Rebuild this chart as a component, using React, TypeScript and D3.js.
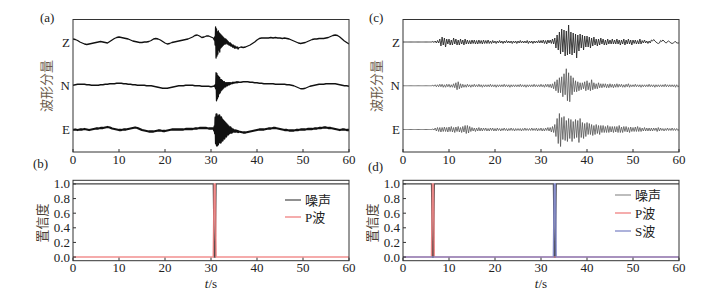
import React from "react";
import * as d3 from "d3";

// ---------- tick labels / categories ----------
const TIME_TICKS = [0, 10, 20, 30, 40, 50, 60];
const CONF_TICKS = [0, 0.2, 0.4, 0.6, 0.8, 1.0];
const COMPONENTS = ["Z", "N", "E"];

// ---------- panel (a): waveform amplitudes (counts) ----------
// pre-event: t = 0 .. 30.5 s every 0.5 s
const A_Z_PRE = [3, 2.5, 1.5, 0, -1, -2, -2.5, -2, -1.5, -1, -0.5, 0, 0.5, 0, -0.5, -1, 0.5, 2, 3.5, 4.5, 5, 4.5, 4, 3.5, 3, 2, 1, 0.5, 0, -0.5, -0.5, 0, 0, 0.5, 1.5, 3, 3.5, 3, 2, 0.5, -1, -2, -1.5, -0.5, 0, 0.5, 1, 1.5, 2, 2.5, 3, 4, 5, 6.5, 7, 6, 4.5, 5, 6, 6, 5, 4];
const A_N_PRE = [0.5, 1, 1.5, 1.5, 1.5, 1.5, 1, 1, 0.5, 0.5, 0.5, 0.5, 1, 1, 1.5, 1.5, 2, 2, 2, 2.5, 2.5, 2.5, 2, 2, 1.5, 1.5, 1, 1, 0.5, 0.5, 0.5, 0.5, 0, 0, 0, -0.5, -1, -1.5, -2, -2.5, -2.5, -2.5, -2, -1.5, -1, -0.5, 0, 0, 0, 0.5, 0.5, 0.5, 0.5, 0, 0, 0, -0.5, -0.5, -0.5, -0.5, -1, -0.5];
const A_E_PRE = [-0.5, 0, -0.5, 0, 0, 0.5, 0, -0.5, 0, 0.5, 1, 1, 1.5, 1.5, 2, 2.5, 2, 1, 0.5, 0, -0.5, -0.5, 0, 0, 0.5, 1, 1.5, 2, 1.5, 0.5, -0.5, -1, -1.5, -2, -2, -2, -1.5, -1, -1, -1.5, -1.5, -1, -0.5, 0, 0, 0, 0, 0, 0, 0.5, 0.5, 0.5, 0.5, 1, 1, 1.5, 1.5, 1.5, 1.5, 1, 1, 1];
// event: t = 30.6 .. 36.0 s every 0.1 s
const A_Z_EVT = [3, 2, 5, -3, 15, -16, 13, -14, 10, -12, 11, -8, 9, -10, 8, -6, 7, -5, 6, -4, 5, -3, 4, -2, 3, -2, 3, -1, 2, -2, 1, -2, 0, -3, -1, -3, -1, -4, -2, -4, -3, -5, -3, -5, -4, -6, -4, -6, -5, -6, -5, -6, -5, -7, -6];
const A_N_EVT = [-0.5, 0, -1, 1, -3, 13, -15, 12, -13, 10, -11, 9, -8, 8, -7, 6, -5, 6, -4, 5, -3, 4, -2, 4, -1, 3, -1, 3, 0, 3, 0, 3, 1, 3, 1, 3, 1.5, 3, 2, 3, 2, 3.5, 2.5, 3.5, 2.5, 3.5, 3, 3.5, 3, 4, 3, 4, 3, 4, 3.5];
const A_E_EVT = [1, -1, 3, -4, 12, -14, 15, -16, 13, -15, 12, -13, 14, -12, 11, -13, 12, -10, 10, -11, 9, -8, 8, -9, 7, -6, 6, -7, 5, -5, 4, -5, 3, -4, 2, -3, 2, -3, 1, -3, 0, -2, 0, -2, -1, -2, -1, -2, -1, -2, -1.5, -2, -1.5, -2.5, -2];
// post-event: t = 36.5 .. 60 s every 0.5 s
const A_Z_POST = [-5, -5.5, -5, -4, -3, -1.5, 0, 2, 3.5, 4, 4, 4, 4, 4.5, 4, 4.5, 4, 4, 3.5, 4, 3.5, 3, 2, 1, 0, -1, -1.5, -1, -0.5, 0.5, 1.5, 2.5, 3, 3, 3.5, 3.5, 3.5, 4, 4.5, 5.5, 6.5, 7, 6.5, 5, 3, 1, -0.5, -2];
const A_N_POST = [3.5, 4, 4, 4, 3.5, 3.5, 3, 3, 2.5, 2.5, 2, 2, 2, 2, 2, 1.5, 1.5, 1.5, 1.5, 1.5, 1, 1, 0.5, 0, -1, -2, -3, -3, -2.5, -1.5, -0.5, 0, 0.5, 1, 1.5, 1.5, 1.5, 2, 2, 2, 2, 2, 1.5, 1, 0.5, 0, 0, -0.5];
const A_E_POST = [-2.5, -3, -3, -2.5, -2, -1.5, -1, -0.5, 0, 0, 0, 0.5, 1, 1, 1.5, 1.5, 1, 0.5, 0, -0.5, -0.5, -1, -1, -1, -0.5, -0.5, 0, 0, 0, 0.5, 0.5, 0.5, 1, 1, 1.5, 1.5, 2, 2, 1.5, 1.5, 1, 0.5, 0, -0.5, 0, 0, -0.5, -0.5];

// ---------- panel (c): waveform amplitudes, t = 0 .. 60 s every 0.25 s ----------
const C_Z = [
  0, 0, 0, 0, 0, 0, 0, 0, 0, 0, 0, 0, 0, 0, 0, 0, 0, 0, 0, 0, 0, 0, 0, 0,
  0, 0, 0.5, -0.5, 1, -1, 1.5, -1, 3, -4, 5, -3, 4, -5, 3, -2,
  3, -3, 2, -3, 4, -2, 3, -3, 2, -3, 3, -2, 2, -3, 3, -2,
  2, -2, 1.5, -2, 2, -1.5, 2, -2, 1.5, -2, 2, -1.5, 1.5, -2, 2, -1.5,
  1.5, -1.5, 2, -1.5, 1, -1.5, 1.5, -1, 1, -1.5, 1, -1, 1.5, -1, 1, -1.5,
  1, -1, 1.5, -1, 1, -1, 1, -1.5, 1, -1, 1, -1.5, 1, -1, 1.5, -1,
  1, -1, 1, -1, 1.5, -1.5, 1, -1, 1, -1.5, 1, -1, 1, -1, 1.5, -1,
  1.5, -1, 2, -1.5, 1.5, -2, 2, -1, 2, -1.5, 3, -2, 4, -6, 7, -8,
  10, -12, 13, -10, 12, -14, 11, -13, 17, -12, 10, -13, 9, -11, 8, -16,
  7, -9, 8, -6, 7, -8, 6, -5, 6, -5, 5, -6, 4, -4, 5, -3,
  3, -4, 3, -3, 4, -2, 3, -3, 2, -3, 3, -2, 2, -2, 3, -2,
  2, -2, 3, -2, 2, -3, 2, -2, 3, -3, 2, -2, 3, -2, 2, -3,
  2, -1.5, 2, -2, 1.5, -2, 3, -2, 1.5, -1, 2, -1, 1, -1.5, 1, -1,
  2, 1, 2.5, 1, 0, -1, -1.5, -1, 1.5, 0.5, 2, 1, -0.5, -1, 0.5, 1,
  0, -1, -1.5, -1, 0, 0.5, -1, -1, -1,
];
const C_N = [
  0, 0, 0, 0, 0, 0, 0, 0, 0, 0, 0, 0, 0, 0, 0, 0, 0, 0, 0, 0, 0, 0, 0, 0,
  0, 0, 0.5, -0.5, 1, -1, 1, -1, 1.5, -1, 1.5, -1.5, 1, -1.5, 1.5, -1,
  1.5, -1.5, 1, -1.5, 2, -2, 3, -4, 4, -3, 2, -2, 1.5, -1.5, 1, -1.5,
  1.5, -1, 1, -1.5, 1, -1, 1.5, -1, 1, -1, 1.5, -1, 1, -1.5, 1, -1,
  1, -1, 1, -1, 1.5, -1, 1, -1, 1, -1.5, 1, -1, 1, -1, 1, -1,
  1.5, -1, 1, -1, 1, -1.5, 1, -1, 1, -1, 1, -1, 1, -1, 1.5, -1,
  1, -1, 1, -1.5, 1, -1, 1, -1, 1, -1, 1.5, -1, 1, -1, 1, -1,
  1.5, -1, 1, -1.5, 1.5, -1, 1.5, -1.5, 1.5, -2, 2, -3, 4, -5, 6, -7,
  8, -7, 9, -11, 12, -9, 17, -15, 13, -16, 10, -9, 8, -6, 5, -6,
  4, -5, 3, -4, 3, -3, 4, -5, 5, -4, 3, -5, 6, -4, 3, -3,
  2, -3, 3, -2, 2, -2, 2, -1.5, 2, -2, 1.5, -2, 2, -1.5, 1.5, -2,
  1.5, -1.5, 2, -1.5, 1.5, -1, 1.5, -1.5, 1, -1.5, 1.5, -1, 2, -1.5, 1, -1,
  1, -1, 1.5, -1, 1, -1, 1, -1.5, 1, -1, 1, -1, 1, -1, 1.5, -1,
  1, -1, 1, -1.5, 1, -1, 1, -1, 1, -1, 1, -1, 1.5, -1, 1, -1,
  1, -1, 1, -1, 1, -1.5, 1, -1, 0,
];
const C_E = [
  0, 0, 0, 0, 0, 0, 0, 0, 0, 0, 0, 0, 0, 0, 0, 0, 0, 0, 0, 0, 0, 0, 0, 0,
  0, 0, 0.5, -0.5, 1.5, -1.5, 2, -2, 2, -2.5, 2, -2, 2.5, -2, 2, -2.5,
  2.5, -2, 3, -2.5, 2, -3, 2.5, -2, 3, -2.5, 2, -3, 3, -2.5, 4, -4,
  4, -3.5, 3, -2, 2, -1.5, 1.5, -2, 1.5, -1.5, 2, -1.5, 1.5, -1.5, 1.5, -1,
  1.5, -1.5, 1, -1.5, 1.5, -1, 1.5, -1.5, 1, -1.5, 1.5, -1, 1, -1.5, 1, -1,
  1.5, -1, 1, -1.5, 1, -1, 1.5, -1, 1, -1.5, 1, -1, 1, -1, 1, -1.5,
  1, -1, 1.5, -1, 1, -1, 1, -1, 1.5, -1, 1, -1, 1.5, -1.5, 1, -1,
  1.5, -1.5, 1, -1.5, 1.5, -1, 2, -1.5, 2, -2.5, 3, -3, 5, -7, 11, -14,
  16, -17, 12, -10, 13, -11, 9, -12, 11, -9, 10, -12, 8, -9, 10, -8,
  9, -13, 11, -8, 7, -9, 6, -7, 7, -5, 6, -5, 5, -6, 4, -5,
  5, -4, 4, -5, 4, -3, 4, -3, 3, -3, 4, -3, 3, -2.5, 3, -3,
  3, -2.5, 3, -3, 4, -3, 2.5, -3, 3, -2, 3, -2.5, 2, -3, 2.5, -2,
  2, -2, 2.5, -2, 3, -2, 2, -2, 1.5, -1.5, 2, -1.5, 1.5, -1.5, 1.5, -1.5,
  1.5, -1.5, 1.5, -1, 1.5, -2, 2, -1.5, 1.5, -1, 1, -1.5, 1, -1, 1.5, -1,
  1, -1, 1.5, -1, 1, -1, 1, -1, 0,
];

// ---------- panels (b), (d): confidence ----------
const B_T = [0, 30.5, 30.7, 30.9, 31.1, 60];
const B_NOISE = [1, 1, 0, 0, 1, 1];
const B_P = [0, 0, 1, 1, 0, 0];
const D_T = [0, 6.2, 6.4, 6.6, 6.8, 32.7, 32.9, 33.1, 33.3, 60];
const D_NOISE = [1, 1, 0, 0, 1, 1, 0, 0, 1, 1];
const D_P = [0, 0, 1, 1, 0, 0, 0, 0, 0, 0];
const D_S = [0, 0, 0, 0, 0, 0, 1, 1, 0, 0];

// ---------- style ----------
const SERIF = "'Liberation Serif','Times New Roman',serif";
const CJK = "'Liberation Serif','Noto Sans CJK SC',sans-serif";
const TXT = "#222";
const FRAME = "#333";

type Pt = [number, number];

function segs(pre: number[], evt: number[], post: number[]): Pt[] {
  const out: Pt[] = [];
  pre.forEach((v, i) => out.push([i * 0.5, v]));
  evt.forEach((v, i) => out.push([30.6 + i * 0.1, v]));
  post.forEach((v, i) => out.push([36.5 + i * 0.5, v]));
  return out;
}
function even(vals: number[], dt: number): Pt[] {
  return vals.map((v, i) => [i * dt, v] as Pt);
}

const TOP = { y0: 19.5, y1: 152 };
const BOT = { y0: 180.3, y1: 260.7 };
const LEFT = { x0: 73, x1: 349 };
const RIGHT = { x0: 403, x1: 679 };

function TimeAxis({ x, y1, labelY }: { x: d3.ScaleLinear<number, number>; y1: number; labelY: number }) {
  return (
    <g>
      {TIME_TICKS.map((t) => (
        <g key={t}>
          <line x1={x(t)} x2={x(t)} y1={y1} y2={y1 - 3} stroke={FRAME} strokeWidth={1} />
          <text x={x(t)} y={labelY} textAnchor="middle" fontFamily={SERIF} fontSize={13} fill={TXT}>
            {t}
          </text>
        </g>
      ))}
    </g>
  );
}

function WavePanel({ box, traces, colors, widths, tag }: { box: { x0: number; x1: number }; traces: Pt[][]; colors: string[]; widths: number[]; tag: string }) {
  const x = d3.scaleLinear().domain([0, 60]).range([box.x0, box.x1]);
  const center = d3.scalePoint<string>().domain(COMPONENTS).range([42, 129.5]);
  const amp = d3.scaleLinear().domain([-20, 20]).range([20, -20]);
  const id = "clipw" + tag;
  return (
    <g>
      <defs>
        <clipPath id={id}>
          <rect x={box.x0} y={TOP.y0} width={box.x1 - box.x0} height={TOP.y1 - TOP.y0} />
        </clipPath>
      </defs>
      <g clipPath={`url(#${id})`}>
        {traces.map((tr, i) => {
          const c = center(COMPONENTS[i])!;
          const line = d3
            .line<Pt>()
            .x((d) => x(d[0]))
            .y((d) => c + amp(d[1]));
          return <path key={i} d={line(tr) || ""} fill="none" stroke={colors[i]} strokeWidth={widths[i]} strokeLinejoin="round" />;
        })}
      </g>
      <rect x={box.x0} y={TOP.y0} width={box.x1 - box.x0} height={TOP.y1 - TOP.y0} fill="none" stroke={FRAME} strokeWidth={1} />
      {COMPONENTS.map((k) => (
        <text key={k} x={box.x0 - 3} y={center(k)! + 4.5} textAnchor="end" fontFamily={SERIF} fontSize={13} fill={TXT}>
          {k}
        </text>
      ))}
      <text transform={`translate(${box.x0 - 27},86) rotate(-90)`} textAnchor="middle" dominantBaseline="central" fontFamily={CJK} fontSize={13} fill="#6a5a4a">
        波形分量
      </text>
      <TimeAxis x={x} y1={TOP.y1} labelY={TOP.y1 + 11.5} />
    </g>
  );
}

function ConfPanel({ box, t, series, colors, names, legendColors, legend, tag }: {
  box: { x0: number; x1: number }; t: number[]; series: number[][]; colors: string[]; names: string[]; legendColors: string[];
  legend: { lx0: number; lx1: number; ly: number[] }; tag: string;
}) {
  const x = d3.scaleLinear().domain([0, 60]).range([box.x0, box.x1]);
  const y = d3.scaleLinear().domain([-0.05, 1.05]).range([BOT.y1, BOT.y0]);
  const id = "clipc" + tag;
  return (
    <g>
      <defs>
        <clipPath id={id}>
          <rect x={box.x0} y={BOT.y0} width={box.x1 - box.x0} height={BOT.y1 - BOT.y0} />
        </clipPath>
      </defs>
      <g clipPath={`url(#${id})`}>
        {series.map((s, i) => {
          const line = d3
            .line<number>()
            .x((_, j) => x(t[j]))
            .y((d) => y(d));
          return <path key={i} d={line(s) || ""} fill="none" stroke={colors[i]} strokeWidth={i === 0 ? 1.3 : 1.6} strokeOpacity={i === 0 ? 1 : 0.85} />;
        })}
      </g>
      <rect x={box.x0} y={BOT.y0} width={box.x1 - box.x0} height={BOT.y1 - BOT.y0} fill="none" stroke={FRAME} strokeWidth={1} />
      {CONF_TICKS.map((v) => (
        <g key={v}>
          <line x1={box.x0} x2={box.x0 + 3} y1={y(v)} y2={y(v)} stroke={FRAME} />
          <text x={box.x0 - 3} y={y(v) + 4.5} textAnchor="end" fontFamily={SERIF} fontSize={13} fill={TXT}>
            {v.toFixed(1)}
          </text>
        </g>
      ))}
      <TimeAxis x={x} y1={BOT.y1} labelY={BOT.y1 + 11.5} />
      <text transform={`translate(${box.x0 - 31},223) rotate(-90)`} textAnchor="middle" dominantBaseline="central" fontFamily={CJK} fontSize={13} fill="#4a3e34">
        置信度
      </text>
      <text x={(box.x0 + box.x1) / 2} y={288} textAnchor="middle" fontFamily={SERIF} fontSize={13} fill={TXT}>
        <tspan fontStyle="italic">t</tspan>/s
      </text>
      {names.map((n, i) => (
        <g key={n}>
          <line x1={legend.lx0} x2={legend.lx1} y1={legend.ly[i]} y2={legend.ly[i]} stroke={legendColors[i]} strokeWidth={1.3} />
          <text x={legend.lx1 + 4} y={legend.ly[i] + 4.5} fontFamily={CJK} fontSize={13} fill={TXT}>
            {n}
          </text>
        </g>
      ))}
    </g>
  );
}

export default function App() {
  const aTraces = [segs(A_Z_PRE, A_Z_EVT, A_Z_POST), segs(A_N_PRE, A_N_EVT, A_N_POST), segs(A_E_PRE, A_E_EVT, A_E_POST)];
  const cTraces = [even(C_Z, 0.25), even(C_N, 0.25), even(C_E, 0.25)];
  return (
    <svg width={713} height={294} style={{ position: "absolute", left: 0, top: 0, display: "block", background: "#fff" }}>
      <rect width={713} height={294} fill="#fff" />
      <WavePanel box={LEFT} traces={aTraces} colors={["#111", "#111", "#111"]} widths={[1.3, 1.3, 2.3]} tag="a" />
      <WavePanel box={RIGHT} traces={cTraces} colors={["#2a2a2a", "#555", "#555"]} widths={[0.9, 0.8, 0.8]} tag="c" />
      <ConfPanel
        box={LEFT}
        t={B_T}
        series={[B_NOISE, B_P]}
        colors={["#444", "#f07c7c"]}
        names={["噪声", "P波"]}
        legendColors={["#555", "#f08080"]}
        legend={{ lx0: 285, lx1: 301, ly: [200, 217] }}
        tag="b"
      />
      <ConfPanel
        box={RIGHT}
        t={D_T}
        series={[D_NOISE, D_P, D_S]}
        colors={["#444", "#f07c7c", "#7c84c8"]}
        names={["噪声", "P波", "S波"]}
        legendColors={["#999", "#f08080", "#8088c8"]}
        legend={{ lx0: 615, lx1: 631, ly: [195, 213, 231] }}
        tag="d"
      />
      <text x={40} y={22} fontFamily={SERIF} fontSize={13} fill={TXT}>(a)</text>
      <text x={369} y={22} fontFamily={SERIF} fontSize={13} fill={TXT}>(c)</text>
      <text x={33} y={168} fontFamily={SERIF} fontSize={13} fill={TXT}>(b)</text>
      <text x={368} y={171} fontFamily={SERIF} fontSize={13} fill={TXT}>(d)</text>
    </svg>
  );
}
